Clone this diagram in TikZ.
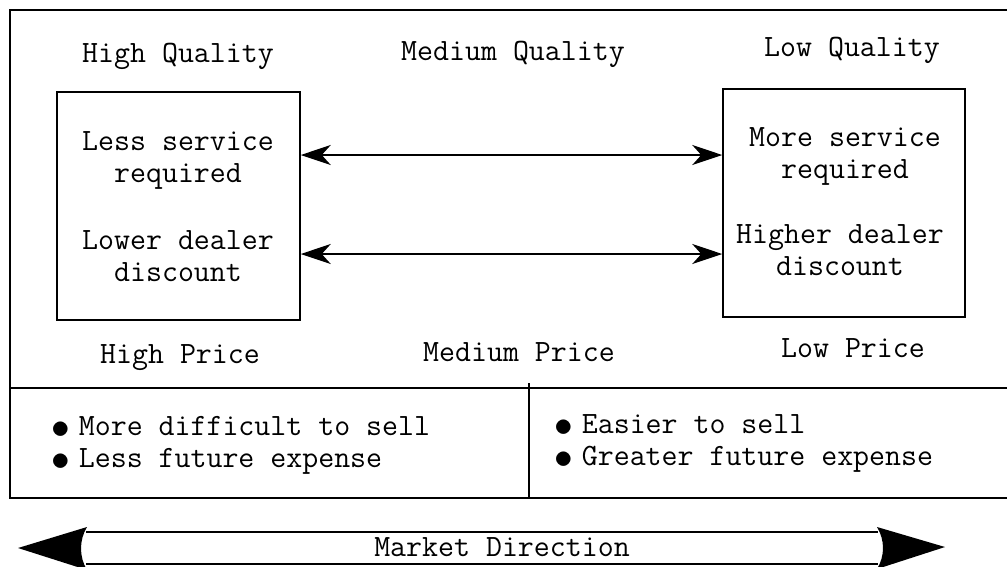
\documentclass[tikz,border=0pt]{standalone}
\usepackage{amsmath}
\usepackage{graphicx}
\usepackage{fontspec}
\usetikzlibrary{arrows.meta}

\newcommand{\itemdot}{\smash{\raisebox{-3.5pt}{\scalebox{1.5}{$\bullet$}}}\hspace{9pt}}

\tikzset{
  txt/.style={font=\fontsize{31}{32}\selectfont\ttfamily, inner sep=0pt, anchor=base},
  rule/.style={line width=1.5pt},
  box/.style={draw, line width=1.5pt, minimum width=#1, minimum height=228pt, inner sep=0pt},
  tradeoff/.style={line width=1.5pt, {Stealth[length=30pt,width=20pt,inset=9pt]}-{Stealth[length=30pt,width=20pt,inset=9pt]}},
}

\begin{document}
\begin{tikzpicture}[x=1pt,y=1pt,yscale=-1,xscale=1]
\useasboundingbox (0,0) rectangle (1007,566);
\clip (0,0) rectangle (1007,566);

%Outer frame, open to the right
\draw [rule] (1015,10) -- (10,10) -- (10,498) -- (1015,498) ;
\draw [rule] (10,388) -- (1015,388) ;
\draw [rule] (529,383) -- (529,498) ;

% Quality heads
\node [txt] (hiqual) at (178,62) {High Quality};
\node [txt] (medqual) at (513,60) {Medium Quality};
\node [txt] (loqual) at (852,56) {Low Quality};

% Side boxes
\node [box=243pt] (lbox) at (178.5,206) {};
\node [box=242pt] (rbox) at (844,203) {};

% Text Node (base = last line)
\node [txt, align=center] (lsvc) at (178,182) {Less service\\required};
\node [txt, align=center] (ldisc) at (178,281) {Lower dealer\\discount};
\node [txt, align=center] (rsvc) at (845,178) {More service\\required};
\node [txt, align=center] (rdisc) at (840,275) {Higher dealer\\discount};

%Straight Lines
\coordinate (svc) at (0,155);
\coordinate (disc) at (0,254);
\draw [tradeoff] (lbox.east |- svc) -- (rbox.west |- svc) ;
\draw [tradeoff] (lbox.east |- disc) -- (rbox.west |- disc) ;

% Price heads
\node [txt] (hiprice) at (180,363) {High Price};
\node [txt] (medprice) at (519,361) {Medium Price};
\node [txt] (loprice) at (853,357) {Low Price};

% Bullets
\node [txt, anchor=base west, align=left] (hard) at (51,467) {\itemdot More difficult to sell\\\itemdot Less future expense};
\node [txt, anchor=base west, align=left] (easy) at (554,465) {\itemdot Easier to sell\\\itemdot Greater future expense};

% Market direction arrow
\draw [rule] (86,532) -- (878,532) (86,564) -- (878,564) ;
\fill (87,527) -- (18,548) -- (87,570) .. controls (79,557) and (79,540) .. (87,527) ;
\fill (877,527) -- (945,547) -- (877,569) .. controls (885,556) and (885,540) .. (877,527) ;
\node [txt] (mkt) at (502,556) {Market Direction};

\end{tikzpicture}
\end{document}
